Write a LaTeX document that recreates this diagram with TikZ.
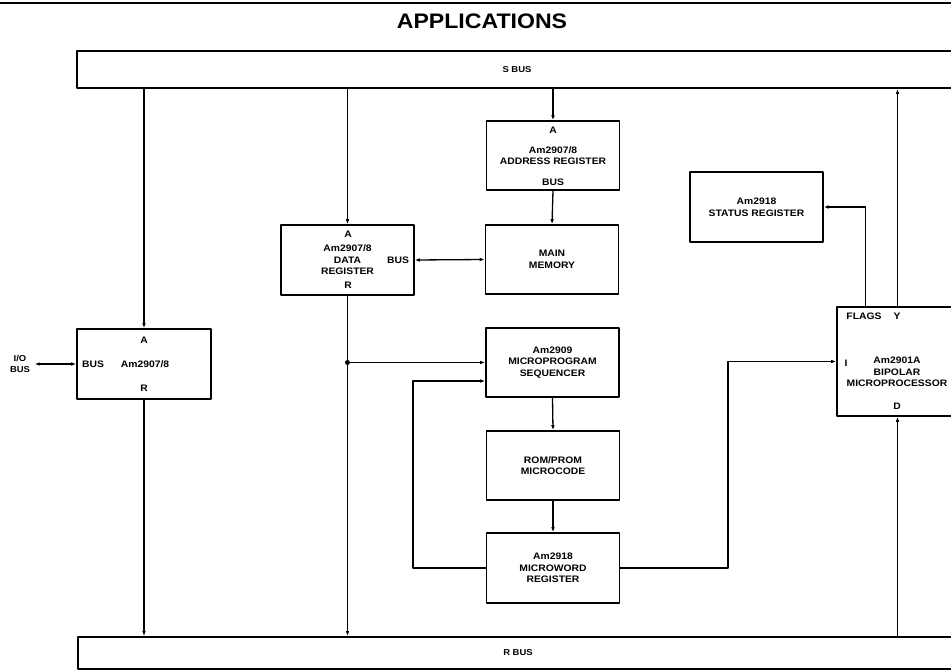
\documentclass[tikz,border=0pt]{standalone}
\usepackage{fontspec}
\setmainfont[FakeStretch=1.1]{Liberation Sans}
\usetikzlibrary{arrows.meta,calc}

\newcommand\lblfont{\fontsize{9.4}{11.6}\selectfont\bfseries}
\newcommand\busfont{\fontsize{8.6}{10.6}\selectfont\bfseries}

\tikzset{
  blk/.style={draw,line width=1.6pt,minimum width=133pt,minimum height=70pt,inner sep=0pt,align=center},
  bus/.style={draw,line width=1.8pt,minimum width=880pt,minimum height=37pt,inner sep=0pt,font=\busfont},
  pin/.style={inner sep=0pt},
}

\begin{document}
\begin{tikzpicture}[x=1pt,y=-1pt,line width=1.3pt,line join=round,>={Latex[length=5pt,width=3.6pt]},font=\lblfont]
                \clip (0,0) rectangle (951,672);
                \draw[line width=1.5pt] (0,3)--(951,3);
                \node[font=\fontsize{21}{24}\selectfont\bfseries] (title) at (482,21) {APPLICATIONS};
                % buses
                \node[bus] (sbus) at (517,69.5) {S BUS};
                \node[bus,minimum height=32pt] (rbus) at (518,653) {R BUS};
                % blocks
                \node[blk,minimum width=134pt] (io) at (144,364) {\hspace*{2pt}Am2907/8};
                \node[blk] (dreg) at (347.5,260) {Am2907/8\\DATA\\REGISTER};
                \node[blk,minimum height=69pt] (areg) at (553,155.5) {Am2907/8\\ADDRESS REGISTER};
                \node[blk,minimum height=69pt] (mem) at (552,259.5) {MAIN\\MEMORY};
                \node[blk,minimum height=69pt] (seq) at (552.5,362.5) {Am2909\\MICROPROGRAM\\SEQUENCER};
                \node[blk,minimum height=69pt] (rom) at (553,465.5) {ROM/PROM\\MICROCODE};
                \node[blk] (mwr) at (553,568) {Am2918\\MICROWORD\\REGISTER};
                \node[blk] (stat) at (756.5,207) {Am2918\\STATUS REGISTER};
                \node[blk,minimum width=121pt,minimum height=109pt] (cpu) at (897.5,361.5) {};
                \node[align=center] (cputxt) at (897,372) {Am2901A\\BIPOLAR\\MICROPROCESSOR};
                % pin labels
                \node[pin] (ioA) at (144,340) {A};
                \node[pin] (ioB) at (93,364) {BUS};
                \node[pin] (ioR) at (144,388) {R};
                \node[pin] (drA) at (348,234) {A};
                \node[pin] (drR) at (348,285) {R};
                \node[pin] (drB) at (398,260) {BUS};
                \node[pin] (arA) at (553,130) {A};
                \node[pin] (arB) at (553,182) {BUS};
                \node[pin] (cpF) at (864,316) {FLAGS};
                \node[pin] (cpY) at (897,316) {Y};
                \node[pin] (cpI) at (846,363) {I};
                \node[pin] (cpD) at (897,406) {D};
                \node[align=center,inner sep=1pt,font=\busfont] (iobus) at (20,364) {I/O\\BUS};
                % connections
                \draw[<->,shorten <=3pt] (iobus.east)--(io.west);
                \draw[->] (io.north |- sbus.south)--(io.north);
                \draw[->] (io.south)--(io.south |- rbus.north);
                \draw[->] (dreg.north |- sbus.south)--(dreg.north);
                \draw[->] (dreg.south)--(dreg.south |- rbus.north);
                \coordinate (dj) at (dreg.south |- seq.west);
                \fill (dj) circle (2.5);
                \draw[->] (dj)--(seq.west);
                \draw[<->] (dreg.east)--(mem.west);
                \draw[->] (areg.north |- sbus.south)--(areg.north);
                \draw[->] (areg.south)--(mem.north);
                \draw[->] (seq.south)--(rom.north);
                \draw[->] (rom.south)--(mwr.north);
                \coordinate (fbl) at (413,568);
                \draw[->] (mwr.west)--(fbl) |- ($(seq.west)+(0,18.5)$);
                \coordinate (fbr) at (728,568);
                \draw[->] (mwr.east)--(fbr) |- (cpu.west);
                \draw[->] ($(cpu.north west)+(29,0)$) |- (stat.east);
                \draw[->] (cpu.north)--(cpu.north |- sbus.south);
                \draw[->] (cpu.south |- rbus.north)--(cpu.south);
              \end{tikzpicture}
\end{document}
